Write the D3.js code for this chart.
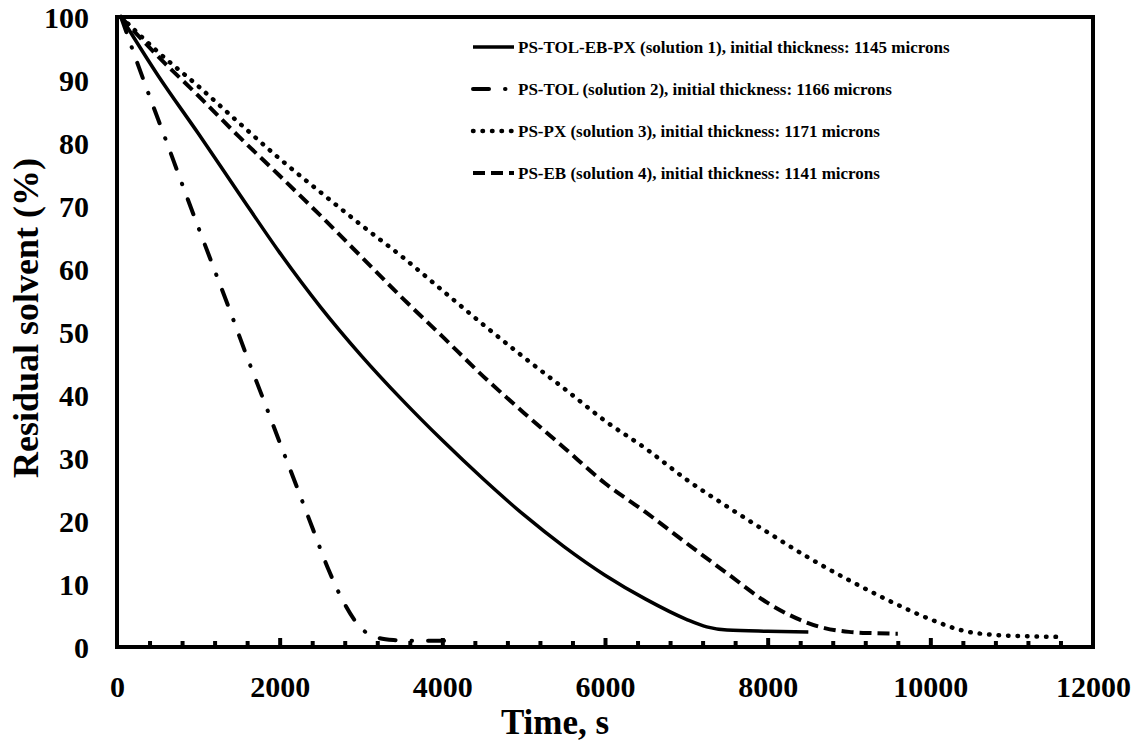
<!DOCTYPE html>
<html>
<head>
<meta charset="utf-8">
<script src="https://cdn.jsdelivr.net/npm/d3@7"></script>
<style>
  html, body { margin: 0; padding: 0; background: #fff; }
  text { font-family: "Liberation Serif", "Times New Roman", serif; font-weight: bold; fill: #000; }
</style>
</head>
<body>
<svg id="chart" width="1140" height="742"></svg>
<script>
// ---- Data ----
const xTicks = [0, 2000, 4000, 6000, 8000, 10000, 12000];
const yTicks = [0, 10, 20, 30, 40, 50, 60, 70, 80, 90, 100];

const seriesNames = [
  "PS-TOL-EB-PX (solution 1), initial thickness: 1145 microns",
  "PS-TOL (solution 2), initial thickness: 1166 microns",
  "PS-PX (solution 3), initial thickness: 1171 microns",
  "PS-EB (solution 4), initial thickness: 1141 microns"
];

// Solution 1 (solid)
const s1Time  = [50, 500, 1000, 1500, 2000, 2500, 3000, 3500, 4000, 4500, 5000, 5500, 6000, 6500, 7000, 7250, 7500, 8000, 8500];
const s1Value = [100, 90.8, 81.5, 72.0, 62.6, 54.0, 46.3, 39.3, 32.8, 26.7, 21.0, 15.9, 11.4, 7.6, 4.4, 3.2, 2.7, 2.5, 2.4];

// Solution 2 (dash-dot)
const s2Time  = [50, 200, 400, 600, 800, 1000, 1200, 1400, 1600, 1800, 2000, 2200, 2400, 2600, 2800, 3000, 3200, 3400, 3600, 3800, 4150];
const s2Value = [100, 94.5, 87.4, 80.5, 73.5, 66.6, 59.8, 53, 46, 39.3, 32.5, 25.8, 19, 12.3, 6.8, 3.0, 1.5, 1.1, 1.0, 1.0, 1.0];

// Solution 3 (dotted)
const s3Time  = [50, 500, 1000, 1500, 2000, 2500, 3000, 3500, 4000, 4500, 5000, 5500, 6000, 6500, 7000, 7500, 8000, 8500, 9000, 9500, 10000, 10400, 10800, 11200, 11600];
const s3Value = [100, 94.5, 89, 83.2, 77.5, 72.2, 67.0, 62.0, 56.6, 51.2, 46.0, 41.0, 35.9, 31.5, 26.6, 22.3, 18.2, 14.2, 10.6, 7.3, 4.4, 2.6, 1.9, 1.7, 1.6];

// Solution 4 (dashed)
const s4Time  = [50, 500, 1000, 1500, 2000, 2500, 3000, 3500, 4000, 4500, 5000, 5500, 6000, 6500, 7000, 7500, 8000, 8400, 8700, 9000, 9300, 9600];
const s4Value = [100, 93.8, 87.5, 81, 74.8, 68.5, 62, 55.5, 49.3, 43, 37.2, 31.6, 26, 21.4, 16.5, 11.7, 7.0, 4.3, 3.0, 2.4, 2.2, 2.1];

// ---- Chart ----
const svg = d3.select("#chart");
const W = 1140, H = 742;
const L = 117, R = 1093, T = 17, B = 647;

const x = d3.scaleLinear().domain([0, 12000]).range([L, R]);
const y = d3.scaleLinear().domain([0, 100]).range([B, T]);

svg.append("rect").attr("width", W).attr("height", H).attr("fill", "#fff");

// plot border
svg.append("rect")
  .attr("x", L).attr("y", T).attr("width", R - L).attr("height", B - T)
  .attr("fill", "none").attr("stroke", "#000").attr("stroke-width", 4);

// minor ticks on x axis (every 400)
const minorTicks = d3.range(400, 12000, 400).filter(v => v % 2000 !== 0);
svg.append("g").attr("transform", `translate(0,${B})`)
  .call(d3.axisBottom(x).tickValues(minorTicks).tickSize(-6).tickFormat(""))
  .call(g => g.select(".domain").remove())
  .call(g => g.selectAll("line").attr("stroke", "#000").attr("stroke-width", 4));

// major ticks
svg.append("g").attr("transform", `translate(0,${B})`)
  .call(d3.axisBottom(x).tickValues(xTicks.filter(v => v > 0 && v < 12000)).tickSize(-9).tickFormat(""))
  .call(g => g.select(".domain").remove())
  .call(g => g.selectAll("line").attr("stroke", "#000").attr("stroke-width", 4));

// x labels
svg.append("g").attr("transform", `translate(0,${B})`)
  .call(d3.axisBottom(x).tickValues(xTicks).tickSize(0).tickFormat(d3.format("d")))
  .call(g => g.select(".domain").remove())
  .call(g => g.selectAll("text")
    .attr("y", 50).attr("dy", null)
    .style("font-size", "30px").style("font-family", "'Liberation Serif', serif").style("font-weight", "bold"));

// y labels
svg.append("g").attr("transform", `translate(${L},0)`)
  .call(d3.axisLeft(y).tickValues(yTicks).tickSize(0).tickPadding(28).tickFormat(d3.format("d")))
  .call(g => g.select(".domain").remove())
  .call(g => g.selectAll("text")
    .attr("dy", "0.34em")
    .style("font-size", "30px").style("font-family", "'Liberation Serif', serif").style("font-weight", "bold"));

// axis titles
svg.append("text").attr("x", 555).attr("y", 734).attr("text-anchor", "middle")
  .style("font-size", "35px").text("Time, s");
svg.append("text").attr("transform", "translate(38,318) rotate(-90)").attr("text-anchor", "middle")
  .style("font-size", "36px").text("Residual  solvent (%)");

// series
const styles = [
  { dash: null, width: 3.5, cap: "butt" },
  { dash: "16,16,0.5,16", width: 4, cap: "round" },
  { dash: "0.5,9", width: 4.5, cap: "round" },
  { dash: "12,6", width: 4, cap: "butt" }
];
const seriesData = [
  s1Time.map((t, i) => [t, s1Value[i]]),
  s2Time.map((t, i) => [t, s2Value[i]]),
  s3Time.map((t, i) => [t, s3Value[i]]),
  s4Time.map((t, i) => [t, s4Value[i]])
];

const line = d3.line().x(d => x(d[0])).y(d => y(d[1])).curve(d3.curveMonotoneX);

seriesData.forEach((data, i) => {
  svg.append("path").datum(data)
    .attr("d", line)
    .attr("fill", "none").attr("stroke", "#000")
    .attr("stroke-width", styles[i].width)
    .attr("stroke-linecap", styles[i].cap)
    .attr("stroke-dasharray", styles[i].dash);
});

// legend
const legendY = [47, 89, 131, 173];
const leg = svg.append("g");
seriesNames.forEach((name, i) => {
  leg.append("line")
    .attr("x1", 473).attr("x2", 514).attr("y1", legendY[i]).attr("y2", legendY[i])
    .attr("stroke", "#000").attr("stroke-width", styles[i].width)
    .attr("stroke-linecap", styles[i].cap)
    .attr("stroke-dasharray", styles[i].dash);
  leg.append("text").attr("x", 518).attr("y", legendY[i]).attr("dy", "0.33em")
    .style("font-size", "17px").text(name);
});
</script>
</body>
</html>
